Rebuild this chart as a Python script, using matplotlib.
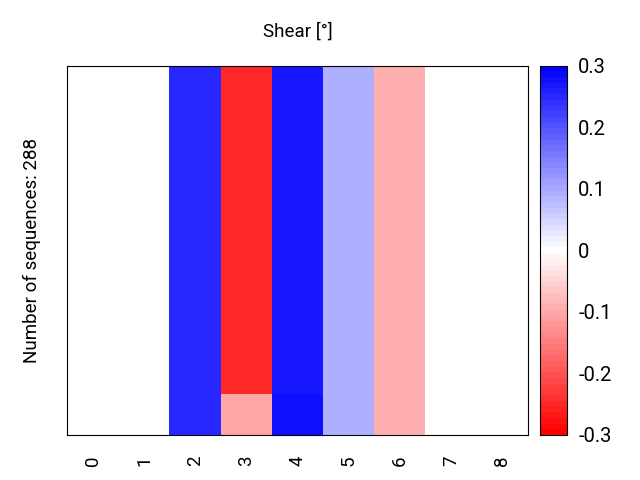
import numpy as np
import matplotlib
matplotlib.use("Agg")
import matplotlib.pyplot as plt

plt.rcParams['font.family'] = ['Roboto', 'DejaVu Sans']
plt.rcParams['axes.unicode_minus'] = False

# data
columns = [0, 1, 2, 3, 4, 5, 6, 7, 8]
top_values = [0.0, 0.0, 0.245, -0.245, 0.27, 0.088, -0.09, 0.0, 0.0]
bottom_values = [0.0, 0.0, 0.245, -0.10, 0.28, 0.088, -0.09, 0.0, 0.0]
top_rows = 8
bottom_rows = 1
cbar_ticks = [-0.3, -0.2, -0.1, 0, 0.1, 0.2, 0.3]

grid = np.vstack([np.tile(top_values, (top_rows, 1)),
                  np.tile(bottom_values, (bottom_rows, 1))])

fig = plt.figure(figsize=(6.4, 4.8), dpi=100)
ax = fig.add_axes([0.105, 0.094, 0.72, 0.769])
cax = fig.add_axes([0.844, 0.094, 0.042, 0.769])

cmap = plt.get_cmap('bwr_r', 65)
im = ax.imshow(grid, cmap=cmap, vmin=-0.3, vmax=0.3, aspect='auto',
               interpolation='nearest')
ax.set_xticks(range(len(columns)))
ax.set_xticklabels([str(c) for c in columns], rotation=90, fontsize=13.5)
ax.tick_params(axis='x', length=0, pad=15)
ax.set_yticks([])
ax.set_ylabel("Number of sequences: 288", fontsize=13.5, labelpad=19)
ax.set_title("Shear [°]", fontsize=13.5, pad=21)

cb = fig.colorbar(im, cax=cax, ticks=cbar_ticks)
cb.ax.set_yticklabels(["-0.3", "-0.2", "-0.1", "0", "0.1", "0.2", "0.3"])
cb.ax.tick_params(length=0, labelsize=14.5, pad=8)

fig.savefig("out.png", dpi=100)
